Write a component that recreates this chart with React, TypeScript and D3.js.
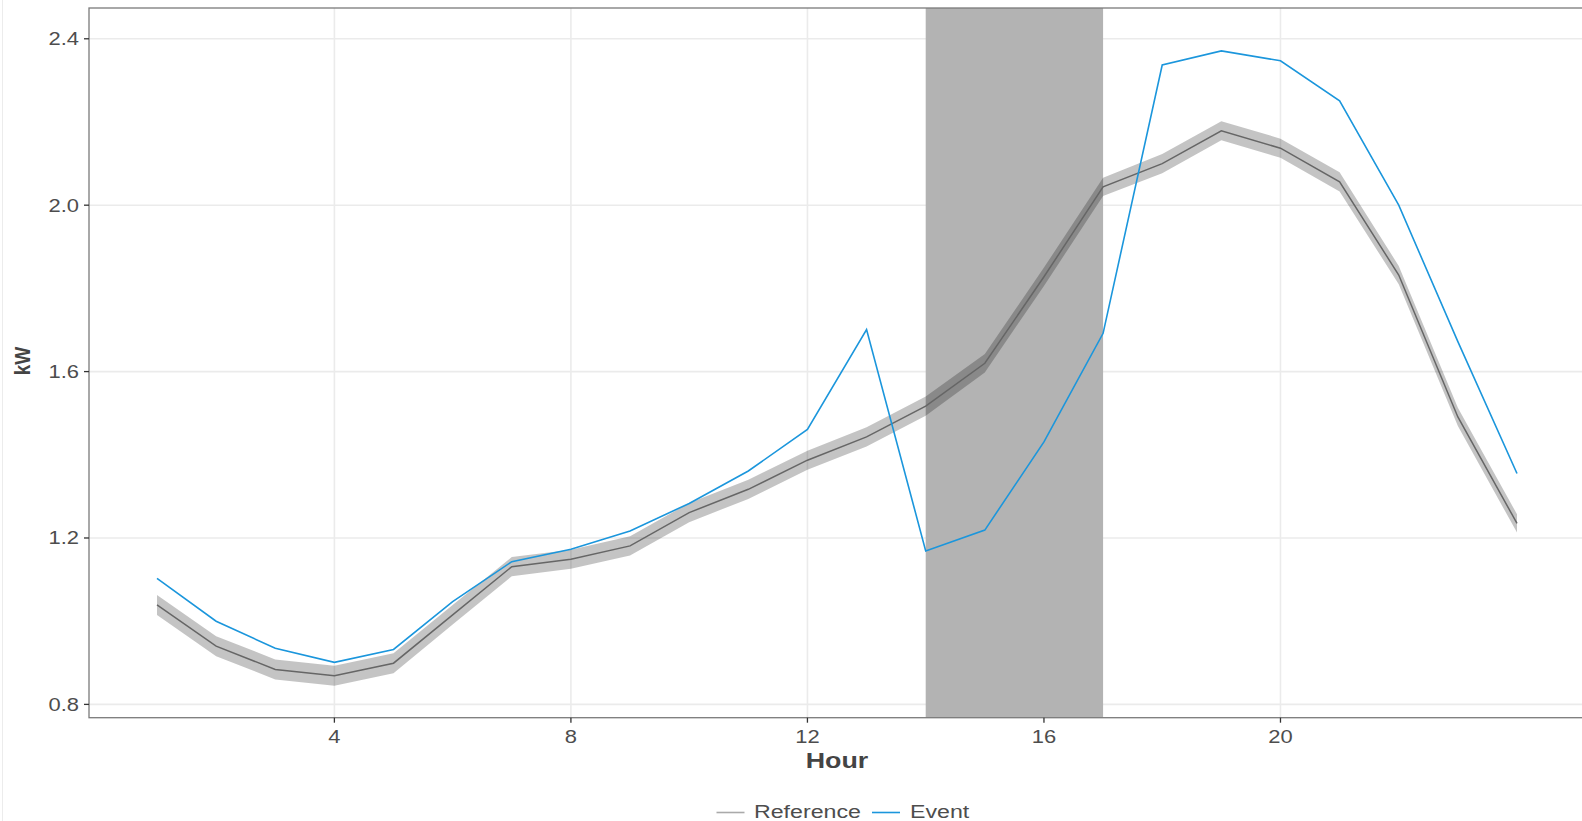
import React from "react";
import * as d3 from "d3";

// hourly load profile, kW
const hours = [1, 2, 3, 4, 5, 6, 7, 8, 9, 10, 11, 12, 13, 14, 15, 16, 17, 18, 19, 20, 21, 22, 23, 24];
const eventKw = [1.103, 1.0, 0.935, 0.901, 0.932, 1.047, 1.143, 1.173, 1.217, 1.283, 1.361, 1.461, 1.701, 1.169, 1.219, 1.431, 1.692, 2.337, 2.371, 2.347, 2.251, 2.0, 1.672, 1.355];
const refKw = [1.039, 0.94, 0.884, 0.869, 0.899, 1.015, 1.131, 1.149, 1.181, 1.261, 1.317, 1.387, 1.443, 1.517, 1.62, 1.828, 2.044, 2.1, 2.179, 2.137, 2.056, 1.832, 1.491, 1.235];
const refLower = [1.015, 0.916, 0.86, 0.845, 0.875, 0.992, 1.108, 1.126, 1.158, 1.238, 1.294, 1.364, 1.42, 1.494, 1.598, 1.806, 2.022, 2.077, 2.156, 2.114, 2.033, 1.81, 1.469, 1.213];
const refUpper = [1.063, 0.964, 0.908, 0.893, 0.923, 1.039, 1.154, 1.172, 1.204, 1.284, 1.34, 1.41, 1.466, 1.54, 1.642, 1.85, 2.066, 2.123, 2.202, 2.16, 2.079, 1.854, 1.513, 1.257];
const eventWindow = [14, 17];
const xTicks = [4, 8, 12, 16, 20];
const yTicks = [0.8, 1.2, 1.6, 2.0, 2.4];

const W = 1582;
const H = 821;
const panel = { left: 89, right: 1585, top: 8, bottom: 717.7 };
const FONT = "'Liberation Sans', Arial, sans-serif";
const SX = 1.22; // text in the original is stretched sideways

function SText(props: any) {
  const { x, y, sx = SX, children, ...rest } = props;
  return (
    <text transform={`translate(${x},${y}) scale(${sx},1)`} fontFamily={FONT} {...rest}>
      {children}
    </text>
  );
}

export default function App() {
  const xScale = d3.scaleLinear().domain([-0.15, 25.15]).range([panel.left, panel.right]);
  const yScale = d3.scaleLinear().domain([0.768, 2.474]).range([panel.bottom, panel.top]);

  const rows = hours.map((h, i) => ({ h, ev: eventKw[i], ref: refKw[i], lo: refLower[i], hi: refUpper[i] }));

  const band = d3.area<any>().x((d) => xScale(d.h)).y0((d) => yScale(d.lo)).y1((d) => yScale(d.hi))(rows);
  const refLine = d3.line<any>().x((d) => xScale(d.h)).y((d) => yScale(d.ref))(rows);
  const evLine = d3.line<any>().x((d) => xScale(d.h)).y((d) => yScale(d.ev))(rows);

  const pw = panel.right - panel.left;
  const ph = panel.bottom - panel.top;

  return (
    <div style={{ position: "absolute", left: 0, top: 0, width: W, height: H, overflow: "hidden", background: "#fff" }}>
      <svg width={W} height={H}>
        <defs>
          <clipPath id="panelClip">
            <rect x={panel.left} y={panel.top} width={pw} height={ph} />
          </clipPath>
        </defs>
        <line x1={2.5} x2={2.5} y1={0} y2={H} stroke="#ececec" strokeWidth={1} />

        {/* grid */}
        <g stroke="#ebebeb" strokeWidth={1.6}>
          {yTicks.map((t) => (
            <line key={"gy" + t} x1={panel.left} x2={panel.right} y1={yScale(t)} y2={yScale(t)} />
          ))}
          {xTicks.map((t) => (
            <line key={"gx" + t} x1={xScale(t)} x2={xScale(t)} y1={panel.top} y2={panel.bottom} />
          ))}
        </g>

        <g clipPath="url(#panelClip)">
          <rect
            x={xScale(eventWindow[0])}
            y={panel.top}
            width={xScale(eventWindow[1]) - xScale(eventWindow[0])}
            height={ph}
            fill="#b3b3b3"
          />
          <path d={band || ""} fill="#000" fillOpacity={0.23} />
          <path d={refLine || ""} fill="none" stroke="#666666" strokeWidth={1.5} />
          <path d={evLine || ""} fill="none" stroke="#1b96dc" strokeWidth={1.6} />
        </g>

        {/* panel border */}
        <rect x={panel.left} y={panel.top} width={pw} height={ph} fill="none" stroke="#7a7a7a" strokeWidth={1.3} />

        {/* y axis */}
        {yTicks.map((t) => (
          <g key={"ty" + t}>
            <line x1={panel.left - 5} x2={panel.left} y1={yScale(t)} y2={yScale(t)} stroke="#333" strokeWidth={1.3} />
            <SText x={79} y={yScale(t) + 6.5} textAnchor="end" fontSize={18} fill="#4d4d4d">
              {t.toFixed(1)}
            </SText>
          </g>
        ))}

        {/* x axis */}
        {xTicks.map((t) => (
          <g key={"tx" + t}>
            <line x1={xScale(t)} x2={xScale(t)} y1={panel.bottom} y2={panel.bottom + 5} stroke="#333" strokeWidth={1.3} />
            <SText x={xScale(t)} y={743} textAnchor="middle" fontSize={18} fill="#4d4d4d">
              {t}
            </SText>
          </g>
        ))}

        <SText x={837} y={768} textAnchor="middle" fontSize={22} fontWeight="bold" fill="#444">
          Hour
        </SText>
        <text
          transform={`translate(30,361) rotate(-90) scale(1,1.15)`}
          textAnchor="middle"
          fontFamily={FONT}
          fontSize={19}
          fontWeight="bold"
          fill="#444"
        >
          kW
        </text>

        {/* legend */}
        <line x1={716.5} x2={744.5} y1={812.5} y2={812.5} stroke="#aaaaaa" strokeWidth={1.6} />
        <SText x={754} y={817.5} fontSize={19} fill="#4d4d4d">
          Reference
        </SText>
        <line x1={872} x2={900} y1={812.5} y2={812.5} stroke="#1b96dc" strokeWidth={1.6} />
        <SText x={910} y={817.5} fontSize={19} fill="#4d4d4d">
          Event
        </SText>
      </svg>
    </div>
  );
}
